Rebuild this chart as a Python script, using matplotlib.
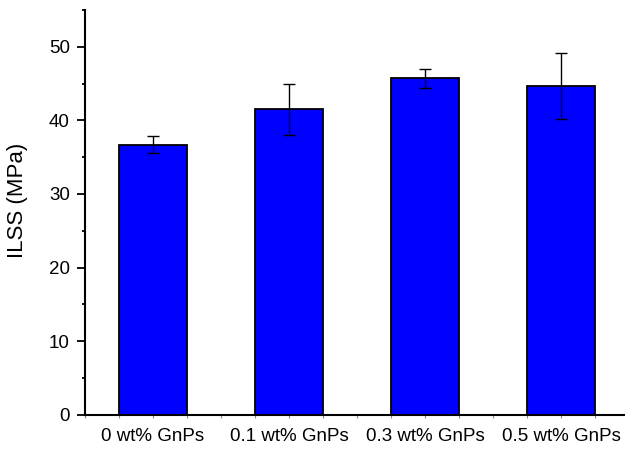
import matplotlib
matplotlib.use("Agg")
import matplotlib.pyplot as plt
from matplotlib.ticker import MultipleLocator

plt.rcParams['font.family'] = ['Liberation Sans', 'DejaVu Sans']

# ILSS of composites vs GnP loading
labels = ["0 wt% GnPs", "0.1 wt% GnPs", "0.3 wt% GnPs", "0.5 wt% GnPs"]
ilss = [36.7, 41.5, 45.7, 44.7]
ilss_err = [1.2, 3.5, 1.3, 4.5]

fig = plt.figure(figsize=(6.25, 4.5), dpi=100)
ax = fig.add_axes([0.136, 0.078, 0.864, 0.9])

pos = [1, 2, 3, 4]
ax.bar(pos, ilss, width=0.5, color="#0000ff", edgecolor="black", linewidth=1.3, zorder=2)
ax.errorbar(pos, ilss, yerr=ilss_err, fmt="none", ecolor="black", elinewidth=1.0,
            capsize=4, capthick=1.0, zorder=3)

ax.set_xlim(0.5, 4.47)
ax.set_ylim(0, 55)
ax.set_xticks(pos)
ax.set_xticklabels(labels, fontsize=13.5)
ax.xaxis.set_minor_locator(MultipleLocator(0.25))
ax.yaxis.set_major_locator(MultipleLocator(10))
ax.yaxis.set_minor_locator(MultipleLocator(5))
ax.tick_params(axis="y", which="major", length=6, width=1.3, labelsize=13.5, pad=5)
ax.tick_params(axis="y", which="minor", length=2.5, width=1.3)
ax.tick_params(axis="x", which="both", length=2.5, width=0.8, color="#888888", labelsize=13.5, pad=7)

for s in ["top", "right"]:
    ax.spines[s].set_visible(False)
for s in ["left", "bottom"]:
    ax.spines[s].set_linewidth(1.5)

ax.set_ylabel("ILSS (MPa)", fontsize=16)
ax.yaxis.set_label_coords(-0.105, 0.53)

fig.savefig("out.png", dpi=100)
